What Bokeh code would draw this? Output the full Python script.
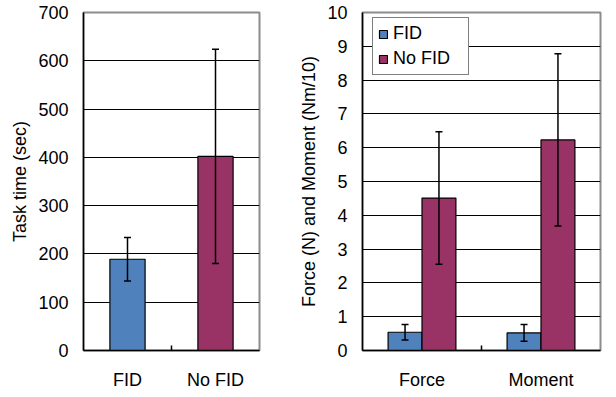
import math
from bokeh.plotting import figure
from bokeh.layouts import row
from bokeh.models import (ColumnDataSource, Range1d, FactorRange, Whisker, TeeHead,
                          SingleIntervalTicker, Legend)
from bokeh.transform import dodge
from bokeh.embed import file_html
from bokeh.resources import INLINE

# ---------------- data ----------------
time_groups = ["FID", "No FID"]
time_mean = [189, 402]
time_sd = [45, 222]

fm_categories = ["Force", "Moment"]
fm_fid_mean = [0.54, 0.52]
fm_fid_sd = [0.23, 0.25]
fm_nofid_mean = [4.51, 6.23]
fm_nofid_sd = [1.96, 2.55]

BLUE = "#4F81BD"
PLUM = "#993366"
FONT = "Liberation Sans"
FS = "18px"


def style(p, ylabel, interval):
    p.outline_line_color = "#8c8c8c"
    p.outline_line_width = 2
    p.background_fill_color = "white"
    p.border_fill_color = "white"
    p.xgrid.grid_line_color = None
    p.ygrid.grid_line_color = "black"
    p.ygrid.grid_line_width = 1
    p.yaxis.ticker = SingleIntervalTicker(interval=interval)
    for ax in (p.xaxis[0], p.yaxis[0]):
        ax.axis_line_color = "black"
        ax.axis_line_width = 1.5
        ax.major_tick_line_color = None
        ax.minor_tick_line_color = None
        ax.major_tick_out = 0
        ax.major_tick_in = 0
        ax.minor_tick_out = 0
        ax.minor_tick_in = 0
        ax.major_label_text_font = FONT
        ax.major_label_text_font_size = FS
        ax.major_label_text_color = "black"
    p.yaxis.axis_label = ylabel
    p.yaxis.axis_label_text_font = FONT
    p.yaxis.axis_label_text_font_size = FS
    p.yaxis.axis_label_text_font_style = "normal"
    p.yaxis.axis_label_text_color = "black"
    p.yaxis.axis_label_standoff = 5
    p.yaxis.major_label_standoff = 15
    p.xaxis.major_label_standoff = 19


def add_between_ticks(p, ncat):
    xs = [float(i) for i in range(1, ncat)]
    p.scatter(x=xs, y=[p.y_range.start] * len(xs), marker="dash", size=10,
              angle=math.pi / 2, line_color="black", line_width=1.5)


def make_whisker(src, base):
    return Whisker(base=base, upper="upper", lower="lower", source=src,
                   line_color="black", line_width=1.5, level="annotation",
                   upper_head=TeeHead(size=7, line_color="black", line_width=1.5),
                   lower_head=TeeHead(size=7, line_color="black", line_width=1.5))


# ---------------- left chart ----------------
src1 = ColumnDataSource(dict(
    x=time_groups, top=time_mean,
    upper=[m + s for m, s in zip(time_mean, time_sd)],
    lower=[m - s for m, s in zip(time_mean, time_sd)],
    color=[BLUE, PLUM]))

p1 = figure(width=296, height=392, x_range=FactorRange(*time_groups),
            y_range=Range1d(0, 700), output_backend="svg", toolbar_location=None,
            min_border_left=83, min_border_right=37, min_border_top=12,
            min_border_bottom=40)
p1.x_range.range_padding = 0
p1.vbar(x="x", top="top", width=0.4, source=src1, fill_color="color",
        line_color="black", line_width=1.2)
p1.add_layout(make_whisker(src1, "x"))
style(p1, "Task time (sec)", 100)
add_between_ticks(p1, len(time_groups))

# ---------------- right chart ----------------
bw = 0.285
src_f = ColumnDataSource(dict(
    x=fm_categories, top=fm_fid_mean,
    upper=[m + s for m, s in zip(fm_fid_mean, fm_fid_sd)],
    lower=[m - s for m, s in zip(fm_fid_mean, fm_fid_sd)]))
src_n = ColumnDataSource(dict(
    x=fm_categories, top=fm_nofid_mean,
    upper=[m + s for m, s in zip(fm_nofid_mean, fm_nofid_sd)],
    lower=[m - s for m, s in zip(fm_nofid_mean, fm_nofid_sd)]))

p2 = figure(width=312, height=392, x_range=FactorRange(*fm_categories),
            y_range=Range1d(0, 10), output_backend="svg", toolbar_location=None,
            min_border_left=65, min_border_right=8, min_border_top=12,
            min_border_bottom=40)
p2.x_range.range_padding = 0
r_f = p2.vbar(x=dodge("x", -bw / 2, range=p2.x_range), top="top", width=bw,
              source=src_f, fill_color=BLUE, line_color="black", line_width=1.2)
r_n = p2.vbar(x=dodge("x", bw / 2, range=p2.x_range), top="top", width=bw,
              source=src_n, fill_color=PLUM, line_color="black", line_width=1.2)
for src, off in ((src_f, -bw / 2), (src_n, bw / 2)):
    p2.add_layout(make_whisker(src, dodge("x", off, range=p2.x_range)))
style(p2, "Force (N) and Moment (Nm/10)", 1)
add_between_ticks(p2, len(fm_categories))

legend = Legend(items=[("FID", [r_f]), ("No FID", [r_n])], location=(10, 275),
                margin=0, padding=5, spacing=4, glyph_width=10, glyph_height=10,
                label_standoff=5, label_width=70, label_text_font=FONT,
                label_text_font_size=FS, label_text_color="black",
                border_line_color="black", border_line_width=1.5,
                background_fill_color="white", background_fill_alpha=1)
p2.add_layout(legend, "center")

layout = row(p1, p2)
open("out.html", "w").write(file_html(layout, INLINE))
